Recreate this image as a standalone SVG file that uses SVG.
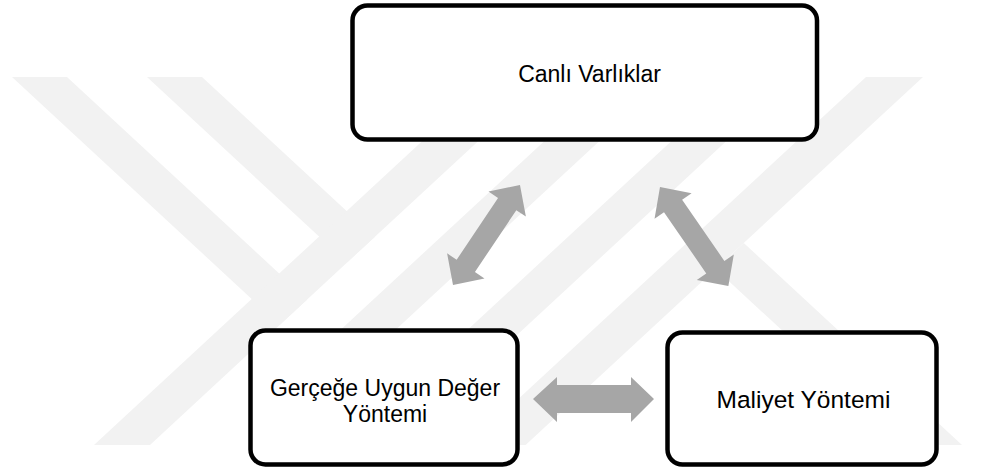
<svg xmlns="http://www.w3.org/2000/svg" width="981" height="471" viewBox="0 0 981 471">
<style>
.wm{fill:#f2f2f2}
.box{fill:#ffffff;stroke:#000000;stroke-width:4.5}
.lbl{font-family:"Liberation Sans",Arial,sans-serif;font-size:23px;fill:#000000;text-anchor:middle}
.arr{fill:#a6a6a6}
</style>
<defs>
<path id="dblDiag" d="M0,0 L23,-22.5 L23,-11 L97.4,-11 L97.4,-22.5 L120.4,0 L97.4,22.5 L97.4,11 L23,11 L23,22.5 Z"/>
</defs>
<rect width="981" height="471" fill="#ffffff"/>
<g id="watermark">
<polygon class="wm" points="12,77 67,77 307.2,299.4 279.7,324.9"/>
<polygon class="wm" points="147,77 202,77 374.7,237 347,262.4"/>
<polygon class="wm" points="94,445 150,445 522.6,100 466.6,100"/>
<polygon class="wm" points="335,335 390,335 643.8,100 588.8,100"/>
<polygon class="wm" points="715.8,100 770.8,100 517,335 462,335"/>
<polygon class="wm" points="866,77 923,77 525.6,445 468.6,445"/>
<polygon class="wm" points="715.7,269 743.8,243 962,445 906,445"/>
</g>
<g id="connectors">
<use class="arr" href="#dblDiag" transform="translate(453,285) rotate(-56.2)"/>
<use class="arr" href="#dblDiag" transform="translate(660,187) rotate(55.4)"/>
<path class="arr" d="M533,399 L557,377 L557,385 L631,385 L631,377 L654,399 L631,422 L631,413 L557,413 L557,422 Z"/>
</g>
<g id="node-canli">
<rect class="box" x="352.5" y="5.5" width="464.5" height="134" rx="15"/>
<text class="lbl" x="589.5" y="82">Canlı Varlıklar</text>
</g>
<g id="node-gercege">
<rect class="box" x="250.5" y="330.5" width="267" height="134" rx="15"/>
<text class="lbl"><tspan x="385" y="396">Gerçeğe Uygun Değer</tspan><tspan x="385" y="422">Yöntemi</tspan></text>
</g>
<g id="node-maliyet">
<rect class="box" x="667.5" y="332.5" width="269" height="132" rx="15"/>
<text class="lbl" x="803.5" y="408" style="font-size:24.5px">Maliyet Yöntemi</text>
</g>
</svg>
